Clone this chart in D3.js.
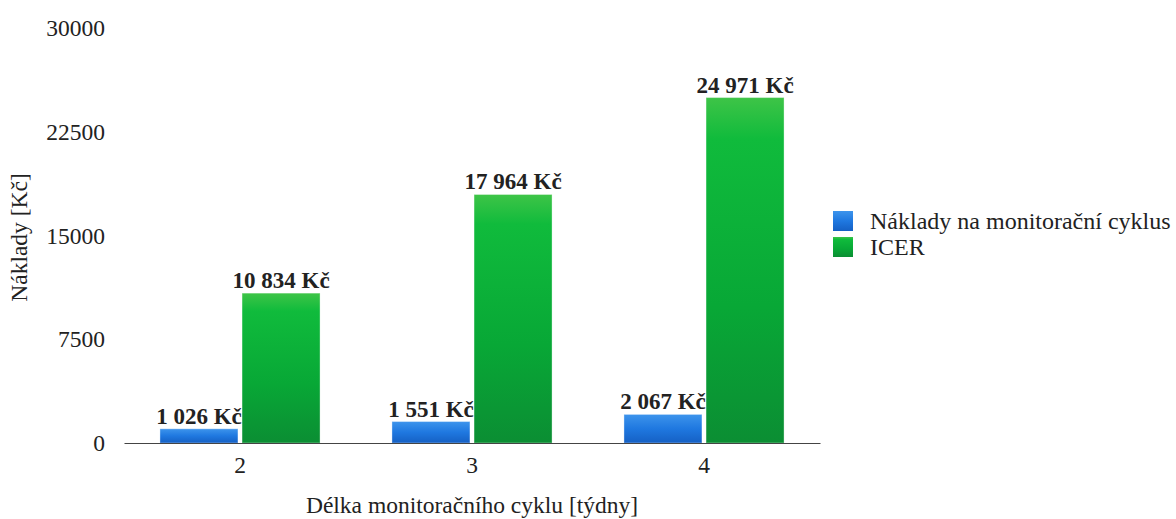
<!DOCTYPE html>
<html>
<head>
<meta charset="utf-8">
<script src="https://cdn.jsdelivr.net/npm/d3@7"></script>
<style>
  html, body { margin: 0; padding: 0; background: #fff; }
  svg { display: block; }
</style>
</head>
<body>
<svg id="chart" width="1176" height="519"></svg>
<script>
// Monitoring cycle length in weeks
const categories = ["2", "3", "4"];
// Cost per monitoring cycle [Kč]
const costValues = [1026, 1551, 2067];
// ICER [Kč]
const icerValues = [10834, 17964, 24971];
const seriesNames = ["Náklady na monitorační cyklus", "ICER"];
const yTicks = [0, 7500, 15000, 22500, 30000];

const FONT = "'Liberation Serif', 'Times New Roman', Times, serif";
const INK = "#222";

const svg = d3.select("#chart")
  .attr("font-family", FONT);
const defs = svg.append("defs");

function addGradient(id, stops) {
  const g = defs.append("linearGradient")
    .attr("id", id).attr("x1", 0).attr("y1", 0).attr("x2", 0).attr("y2", 1);
  stops.forEach(([o, c]) => g.append("stop").attr("offset", o).attr("stop-color", c));
}
addGradient("gradBlue", [["0%", "#3d94ec"], ["50%", "#1f78e0"], ["100%", "#1560c4"]]);
addGradient("gradGreen", [["0%", "#3ec447"], ["12%", "#10bb3c"], ["60%", "#08a836"], ["100%", "#0b8e33"]]);

const plot = { left: 124, right: 820, top: 28, bottom: 443 };

const x = d3.scaleBand()
  .domain(categories)
  .range([plot.left, plot.right])
  .paddingInner(0.31)
  .paddingOuter(0.155);

const x1 = d3.scaleBand()
  .domain(seriesNames)
  .range([0, x.bandwidth()])
  .paddingInner(0.05);

const y = d3.scaleLinear().domain([0, 30000]).range([plot.bottom, plot.top]);

function styleText(sel, size, weight) {
  return sel.style("font-family", FONT)
    .style("font-size", size + "px")
    .style("font-weight", weight || "normal")
    .attr("fill", INK);
}

// Y tick labels (no axis line)
svg.append("g").selectAll("text")
  .data(yTicks).join("text")
  .attr("x", 105)
  .attr("y", d => y(d))
  .attr("dy", "0.35em")
  .attr("text-anchor", "end")
  .text(d => d)
  .call(styleText, 23.5);

const rows = categories.map((c, i) => ({
  cat: c,
  vals: [
    { name: seriesNames[0], value: costValues[i], fill: "url(#gradBlue)" },
    { name: seriesNames[1], value: icerValues[i], fill: "url(#gradGreen)" }
  ]
}));

const fmt = v => d3.format(",")(v).replace(/,/g, " ") + " Kč";

const groups = svg.append("g").selectAll("g")
  .data(rows).join("g")
  .attr("transform", d => `translate(${x(d.cat)},0)`);

groups.selectAll("rect")
  .data(d => d.vals).join("rect")
  .attr("x", d => x1(d.name))
  .attr("y", d => y(d.value))
  .attr("width", x1.bandwidth())
  .attr("height", d => y(0) - y(d.value))
  .attr("fill", d => d.fill)
  .attr("stroke", "rgba(255,255,255,0.35)")
  .attr("stroke-width", 1);

groups.selectAll("text.val")
  .data(d => d.vals).join("text")
  .attr("class", "val")
  .attr("x", d => x1(d.name) + x1.bandwidth() / 2)
  .attr("y", d => y(d.value) - 5)
  .attr("text-anchor", "middle")
  .text(d => fmt(d.value))
  .call(styleText, 23, "bold");

// X axis baseline
const xAxis = svg.append("g")
  .attr("transform", `translate(0,${plot.bottom})`)
  .call(d3.axisBottom(x).tickSize(0).tickPadding(13));
xAxis.attr("font-family", null).attr("font-size", null);
xAxis.select(".domain").attr("stroke", "#444").attr("stroke-width", 1.2);
xAxis.selectAll("text").call(styleText, 23.5);

// Axis titles
svg.append("text")
  .attr("x", (plot.left + plot.right) / 2)
  .attr("y", 513)
  .attr("text-anchor", "middle")
  .text("Délka monitoračního cyklu [týdny]")
  .call(styleText, 23.5);

svg.append("text")
  .attr("transform", `translate(27,${(plot.top + plot.bottom) / 2 + 2}) rotate(-90)`)
  .attr("text-anchor", "middle")
  .text("Náklady [Kč]")
  .call(styleText, 23.5);

// Legend
const legend = svg.append("g").attr("transform", "translate(833,211)");
const legendFills = ["url(#gradBlue)", "url(#gradGreen)"];
seriesNames.forEach((name, i) => {
  legend.append("rect")
    .attr("x", 0).attr("y", i * 26)
    .attr("width", 20).attr("height", 20)
    .attr("fill", legendFills[i]);
  legend.append("text")
    .attr("x", 37).attr("y", i * 26 + 10)
    .attr("dy", "0.35em")
    .text(name)
    .call(styleText, 24);
});
</script>
</body>
</html>
